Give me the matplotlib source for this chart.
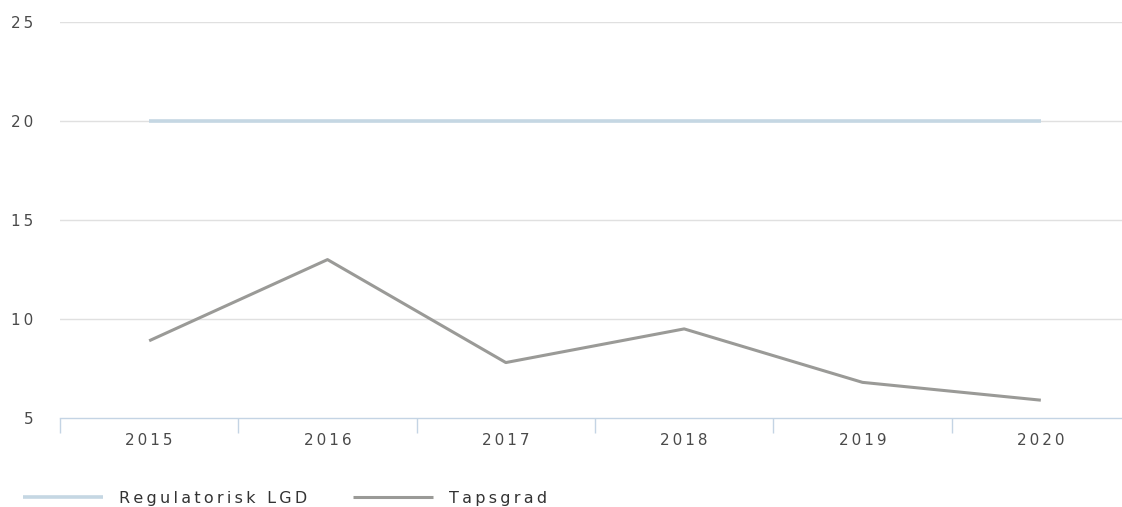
import numpy as np
import matplotlib
matplotlib.use("Agg")
import matplotlib.pyplot as plt
from matplotlib.ticker import FixedLocator

years = ["2015", "2016", "2017", "2018", "2019", "2020"]
regulatorisk_lgd = [20, 20, 20, 20, 20, 20]
tapsgrad = [8.9, 13.0, 7.8, 9.5, 6.8, 5.9]
y_ticks = [5, 10, 15, 20, 25]


def spaced(s):
    # fake letter spacing with thin spaces
    return "\u2009".join(s)


W, H = 1122, 507
fig = plt.figure(figsize=(W / 100, H / 100), dpi=100)
ax = fig.add_axes([60 / W, (H - 418) / H, 1070 / W, 396 / H])

x = np.arange(len(years))
l1, = ax.plot(x, regulatorisk_lgd, color="#c5d7e3", lw=2.6, solid_capstyle="butt")
l2, = ax.plot(x, tapsgrad, color="#9a9a97", lw=2.2, solid_capstyle="butt")

ax.set_xlim(-0.5, len(years) - 0.5)
ax.set_ylim(5, 25)

for s in ["left", "right", "top"]:
    ax.spines[s].set_visible(False)
ax.spines["bottom"].set_color("#c4d4e4")
ax.spines["bottom"].set_linewidth(1.0)

ax.set_yticks(y_ticks)
ax.set_yticklabels([spaced(str(v)) for v in y_ticks])
ax.tick_params(axis="y", length=0, pad=19, labelsize=11, labelcolor="#4a4a4a")
for t in ax.get_yticklabels():
    t.set_horizontalalignment("right")
ax.yaxis.grid(True, color="#e0e0e0", lw=1.0)
ax.set_axisbelow(True)
ax.get_ygridlines()[0].set_visible(False)

ax.xaxis.set_major_locator(FixedLocator(np.arange(len(years) + 1) - 0.5))
ax.xaxis.set_minor_locator(FixedLocator(x))
ax.set_xticklabels([], minor=False)
ax.set_xticklabels([spaced(y) for y in years], minor=True)
ax.tick_params(axis="x", which="major", length=10.5, width=1.0, color="#c4d4e4")
ax.tick_params(axis="x", which="minor", length=0, pad=11, labelsize=11,
               labelcolor="#4a4a4a")

fig.legend([l1, l2], [spaced("Regulatorisk LGD"), spaced("Tapsgrad")],
           loc="center left", bbox_to_anchor=(23 / W, (H - 498) / H),
           ncol=2, frameon=False, fontsize=11.5, labelcolor="#333333",
           handlelength=5.0, handletextpad=1.0, columnspacing=2.9,
           borderpad=0, borderaxespad=0)

fig.savefig("out.png", dpi=100)
